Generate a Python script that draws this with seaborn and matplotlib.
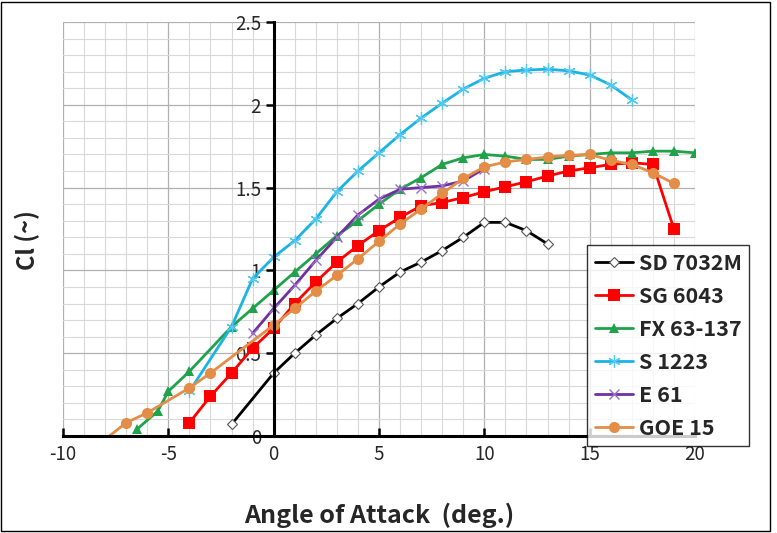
import numpy as np
import pandas as pd
import matplotlib
matplotlib.use('Agg')
import matplotlib.pyplot as plt
import seaborn as sns
from matplotlib.patches import Rectangle

# lift coefficient vs angle of attack
sd_x = [-2, 0, 1, 2, 3, 4, 5, 6, 7, 8, 9, 10, 11, 12, 13]
sd_cl = [0.07, 0.38, 0.50, 0.61, 0.71, 0.80, 0.90, 0.99, 1.05, 1.12, 1.20, 1.29, 1.29, 1.24, 1.16]

sg_x = [-4, -3, -2, -1, 0, 1, 2, 3, 4, 5, 6, 7, 8, 9, 10, 11, 12, 13, 14, 15, 16, 17, 18, 19]
sg_cl = [0.08, 0.24, 0.38, 0.53, 0.65, 0.80, 0.93, 1.05, 1.15, 1.24, 1.32, 1.39,
         1.41, 1.44, 1.475, 1.505, 1.535, 1.57, 1.60, 1.62, 1.64, 1.65, 1.64, 1.25]

fx_x = [-6.5, -5.5, -5, -4, -2, -1, 0, 1, 2, 3, 4, 5, 6, 7, 8, 9, 10,
        11, 12, 13, 14, 15, 16, 17, 18, 19, 20]
fx_cl = [0.04, 0.15, 0.27, 0.39, 0.66, 0.77, 0.88, 0.99, 1.10, 1.21, 1.30, 1.40,
         1.49, 1.56, 1.64, 1.68, 1.70, 1.69, 1.67, 1.67, 1.69, 1.70, 1.71, 1.71,
         1.72, 1.72, 1.71]

s1223_x = [-4, -2, -1, 0, 1, 2, 3, 4, 5, 6, 7, 8, 9, 10, 11, 12, 13, 14, 15, 16, 17]
s1223_cl = [0.27, 0.66, 0.95, 1.08, 1.18, 1.31, 1.475, 1.60, 1.71, 1.82, 1.92,
            2.01, 2.095, 2.16, 2.20, 2.21, 2.215, 2.205, 2.18, 2.12, 2.03]

e61_x = [-1, 0, 1, 2, 3, 4, 5, 6, 7, 8, 9, 10]
e61_cl = [0.62, 0.77, 0.91, 1.06, 1.20, 1.335, 1.43, 1.49, 1.50, 1.51, 1.54, 1.615]

goe_x = [-8, -7, -6, -4, -3, 0, 1, 2, 3, 4, 5, 6, 7, 8, 9, 10, 11, 12, 13, 14,
         15, 16, 17, 18, 19]
goe_cl = [-0.02, 0.08, 0.14, 0.29, 0.38, 0.67, 0.77, 0.875, 0.97, 1.07, 1.175,
          1.28, 1.37, 1.465, 1.555, 1.625, 1.655, 1.67, 1.685, 1.695, 1.70,
          1.665, 1.64, 1.59, 1.525]

sns.set_theme(style='white')
plt.rcParams['font.family'] = ['Noto Sans CJK KR', 'DejaVu Sans']
plt.rcParams['axes.unicode_minus'] = False

fig = plt.figure(figsize=(7.77, 5.33), dpi=100)
ax = fig.add_axes([63/777, 1-436/533, (695-63)/777, (436-22)/533])

# gridlines: minor every 1 deg / 0.1, major every 5 deg / 0.5
ax.set_xlim(-10, 20)
ax.set_ylim(0, 2.5)
ax.set_xticks(np.arange(-10, 21, 5))
ax.set_yticks(np.arange(0, 2.51, 0.5))
ax.set_yticklabels(['0', '0.5', '1', '1.5', '2', '2.5'])
ax.set_xticks(np.arange(-10, 21, 1), minor=True)
ax.set_yticks(np.arange(0, 2.51, 0.1), minor=True)
ax.grid(which='minor', color='#d9d9d9', lw=0.8)
ax.grid(which='major', color='#b0b0b0', lw=0.9)
ax.set_axisbelow(True)

series = [
    ('SD 7032M', sd_x, sd_cl, dict(color='black', marker='D', markersize=5,
                                   markerfacecolor='white', markeredgecolor='#555555',
                                   markeredgewidth=0.8)),
    ('SG 6043', sg_x, sg_cl, dict(color='#ff0000', marker='s', markersize=8,
                                  markeredgewidth=0)),
    ('FX 63-137', fx_x, fx_cl, dict(color='#1fa24a', marker='^', markersize=7,
                                    markeredgewidth=0)),
    ('S 1223', s1223_x, s1223_cl, dict(color='#1ab3e6', marker=(6, 2, 0), markersize=9,
                                       markeredgewidth=0.9, markeredgecolor='#55c8ee')),
    ('E 61', e61_x, e61_cl, dict(color='#7030a0', marker='x', markersize=7,
                                 markeredgewidth=1.0, markeredgecolor='#9a6fc8')),
    ('GOE 15', goe_x, goe_cl, dict(color='#e38d47', marker='o', markersize=8,
                                   markeredgewidth=0, markevery=list(range(1, len(goe_x))))),
]

for name, xs, ys, kw in series:
    sns.lineplot(x=xs, y=ys, ax=ax, label=name, lw=2.0, sort=False,
                 errorbar=None, **kw)

for s in ['top', 'right']:
    ax.spines[s].set_visible(False)
ax.spines['left'].set_position(('data', 0))
ax.spines['left'].set_color('black')
ax.spines['left'].set_linewidth(2.2)
ax.spines['bottom'].set_color('black')
ax.spines['bottom'].set_linewidth(2.2)
ax.tick_params(axis='x', which='major', direction='in', length=6, width=1.8,
               color='black', labelsize=13.5, pad=6, bottom=True)
ax.tick_params(axis='y', which='major', direction='out', length=6, width=1.8,
               color='black', labelsize=13.5, pad=3, left=True)
ax.tick_params(which='minor', length=0)

ax.set_xlabel('Angle of Attack  (deg.)', fontsize=18, fontweight='bold', labelpad=27)
fig.text(27/777, 1-240/533, 'Cl (~)', rotation=90, fontsize=17, fontweight='bold',
         ha='center', va='center')

leg = ax.legend(loc='upper left', bbox_to_anchor=(587/777, 1-245/533),
                bbox_transform=fig.transFigure, frameon=True, fancybox=False,
                prop=dict(size=15.5, weight='bold'), handlelength=1.8,
                handletextpad=0.25, labelspacing=0.56, borderpad=0.35,
                borderaxespad=0)
leg.get_frame().set_edgecolor('black')
leg.get_frame().set_linewidth(1.0)
leg.set_zorder(10)

fig.patches.append(Rectangle((0.0015, 0.004), 0.9895, 0.993, transform=fig.transFigure,
                             fill=False, edgecolor='black', lw=1.0))

fig.savefig('out.png', dpi=100)
